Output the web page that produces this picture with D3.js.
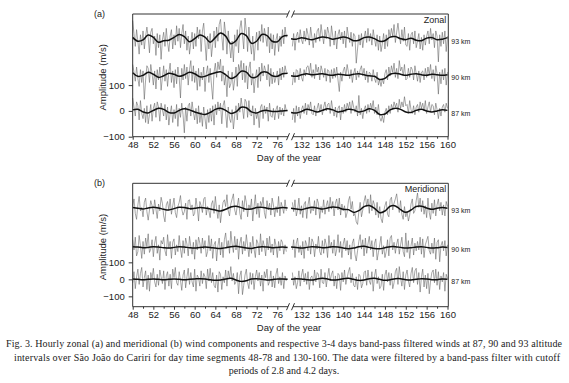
<!DOCTYPE html>
<html lang="en">
<head>
<meta charset="UTF-8">
<title>Fig. 3 - Zonal and meridional winds</title>
<style>
  body { margin: 0; background: #fff; }
  svg { display: block; }
  .tick text { font-family: "Liberation Sans", Arial, sans-serif; font-size: 9.5px; fill: #222; }
  .tick line { stroke: #333; }
  .lbl { font-family: "Liberation Sans", Arial, sans-serif; fill: #222; }
  .caption { font-family: "Liberation Serif", "Times New Roman", serif; font-size: 10px; fill: #222; }
</style>
</head>
<body>
<svg width="569" height="383"></svg>
<script src="https://d3js.org/d3.v7.min.js"></script>
<script>

  // tick values
  var leftTicks = [48, 52, 56, 60, 64, 68, 72, 76];
  var leftMinor = [50, 54, 58, 62, 66, 70, 74];
  var rightTicks = [132, 136, 140, 144, 148, 152, 156, 160];
  var rightMinor = [134, 138, 142, 146, 150, 154, 158];
  var yTicks = [-100, 0, 100];
  var heights = ['87 km', '90 km', '93 km'];

  // ---- zonal, 4 samples per day, anomaly in m/s ----
  var zonal87Left = [
    50,15,-20,35, 20,-35,40,-10, -30,10,-45,20, -50,-15,25,-40, 10,30,-25,35,
    15,-40,30,5, -20,25,-35,15, -55,-10,20,-45, 5,-30,25,-60, 10,-25,30,-15,
    -85,15,-40,20, 30,-20,35,-5, -35,10,-50,20, -45,-5,-60,15, -30,-70,5,-45,
    10,-40,20,-55, 25,-15,35,0, 30,-50,20,40, -10,-65,15,-30, -45,5,-70,-20,
    20,-35,30,-5, 50,10,-30,45, 35,-25,40,-15, -20,20,-55,10, -30,-5,-65,15,
    25,-30,20,-10, 15,-40,30,-20, -25,10,-35,5, 20,-30,15,-15, 10,-20,25,0
  ];
  var zonal90Left = [
    40,10,-25,30, -15,-45,20,-30, 15,-95,-20,35, 25,-30,40,5, -40,15,-55,20,
    -20,30,-60,-10, 35,-25,20,-45, 10,45,-30,15, -50,20,-35,30, -10,-90,25,-20,
    40,-15,30,-40, 20,55,-25,35, -30,15,-60,25, -45,10,-20,30, -65,5,35,-30,
    25,-40,-95,10, 45,-10,50,20, 60,-25,35,-40, -5,-85,15,-50, -35,10,-60,-20,
    30,-45,40,15, 55,-20,45,-30, 35,-55,25,50, -40,5,-70,-15, 20,-50,30,-25,
    45,-5,35,15, -20,40,-45,25, -35,10,-30,-10, 15,-40,25,-20, 30,-10,35,10
  ];
  var zonal93Left = [
    70,20,-30,35, -10,-60,15,-25, 30,-40,10,45, 5,-55,25,40, -20,10,-65,20,
    -35,15,-80,-5, 25,-30,40,-15, -50,10,35,-40, 15,-25,50,-10, 40,-35,20,55,
    -20,30,-45,10, -60,-15,25,-40, 20,-30,45,0, 35,-50,30,60, -15,-85,10,-40,
    20,-70,-20,30, -35,45,-10,55, 75,10,-45,65, 20,-60,30,-25, -75,-10,-90,15,
    -30,35,-55,40, 70,15,-40,80, 30,-50,45,-20, -60,10,-85,-20, 25,-45,30,-10,
    55,-15,40,10, -30,45,-55,20, -40,15,-65,-5, 20,-50,10,-30, 35,-20,45,5
  ];
  var zonal87Right = [
    -35,10,-45,20, -20,15,-30,5, 20,-10,30,-15, 25,5,35,-10, -15,20,-20,10,
    30,-5,25,-15, 15,35,0,25, 30,-10,40,5, -20,15,-25,10, 20,-35,15,-10,
    25,-5,30,10, 35,-10,40,15, -5,20,-20,60, -15,10,-30,5, 20,-10,25,-5,
    30,10,40,-10, 15,-15,25,-25, -40,-20,-45,-5, 10,-15,20,-10, 25,5,35,15,
    30,-5,45,10, 35,15,55,20, 25,-10,40,5, -10,20,-15,15, 25,-5,35,10,
    30,0,40,-10, 15,35,-5,25, 20,-15,30,5, -30,10,-20,15, 25,-5,30,10
  ];
  var zonal90Right = [
    -40,10,-30,20, 15,-20,25,-10, -25,20,-5,30, 35,5,45,-10, 20,-15,40,10,
    30,-20,35,15, -10,25,-25,20, 15,-30,20,-15, 25,-10,30,-20, -65,10,-25,15,
    30,-5,40,10, -15,20,-30,5, 25,-20,15,-10, 20,35,-5,25, -20,15,-30,10,
    5,-25,20,-15, -30,10,-40,-20, -45,-15,-35,5, 20,-20,30,-5, 35,10,45,-10,
    25,-15,55,15, 30,-5,40,-20, -15,25,-10,30, 20,-20,35,5, -25,15,-30,10,
    15,-20,25,-10, 30,0,40,-15, 20,-25,35,5, -75,10,-35,20, -20,25,-40,10
  ];
  var zonal93Right = [
    -30,20,-45,10, 25,-15,35,-5, -20,30,-10,40, 15,-25,45,5, -35,20,-15,30,
    40,-10,55,15, -20,35,0,45, 20,-30,50,10, -25,30,-40,15, 35,-5,25,-20,
    30,-35,45,10, -15,25,-30,20, 10,-95,-40,15, -25,20,-35,5, 30,-15,40,-10,
    20,-25,35,0, -30,15,-45,10, -50,-20,20,-40, 15,-30,35,5, 40,10,55,-15,
    25,60,15,-20, 35,-10,45,-25, -30,20,-45,15, 25,-20,30,-35, -10,20,-40,5,
    -45,15,-25,10, 30,-20,40,-5, 20,-35,30,10, -90,15,-30,25, -20,30,-50,10
  ];

  // ---- meridional ----
  var merid87Left = [
    -20,45,-55,15, 60,-30,35,70, -45,10,50,-60, 25,-70,40,5, 65,-15,-45,30,
    -35,55,15,-25, 50,-60,20,45, -40,30,-55,60, 10,70,-20,-35, 45,-5,-65,25,
    55,-50,15,65, -30,40,-15,-45, 60,-70,25,10, -40,50,-25,35, 15,-55,60,-10,
    65,-20,40,-35, -50,25,-75,45, 30,-60,15,-20, 55,-40,50,5, 75,-10,35,-30,
    -15,40,-85,20, 50,-90,-35,25, 60,-20,-55,40, -30,35,-60,15, 55,-10,40,-40,
    25,-70,45,10, 60,-35,-15,50, -45,20,-50,30, 65,-25,15,-35, 40,-55,20,-10
  ];
  var merid90Left = [
    45,-15,60,-50, -25,70,10,-65, 35,-40,55,5, 80,-30,-10,45, -55,25,65,-35,
    15,-75,40,20, 60,-20,-50,75, -5,35,-65,30, 50,-45,15,-25, 70,-10,-60,40,
    -35,55,20,-50, 65,5,-40,30, -70,45,-15,60, 25,-35,55,-10, 40,-55,-25,70,
    -20,50,-65,15, 35,-80,10,55, -45,30,-60,45, 85,-5,40,-35, 95,20,-30,65,
    -15,50,-70,25, 60,-40,35,-20, 75,10,-55,30, -35,65,-10,-60, 45,25,-45,80,
    -25,40,5,-50, 55,-15,65,-30, 20,-45,50,10, -60,35,-20,45, 30,-40,15,-25
  ];
  var merid93Left = [
    10,55,-30,-65, 20,70,-15,5, -50,35,60,-20, -70,-10,45,15, -35,50,-5,-60,
    25,-15,65,30, -45,-80,20,40, -10,55,-35,15, 60,-25,-55,10, 35,75,-5,-40,
    -20,30,-65,45, 50,-10,20,-45, -30,60,5,-75, 40,15,-25,55, 65,-40,10,-15,
    -55,25,45,-30, 70,-5,-60,20, -85,-20,35,50, 10,80,-15,-45, 25,55,85,-10,
    -40,15,60,-30, -65,45,-20,75, 35,-50,20,-5, 55,-75,10,80, -35,30,-55,40,
    15,65,-25,-60, 45,-10,30,-40, 60,20,-50,10, -25,70,-45,35, 5,-30,50,-15
  ];
  var merid87Right = [
    40,-35,15,-55, -20,50,-40,25, 60,-15,35,-30, 45,-60,10,20, -35,55,-15,40,
    30,-50,60,-20, -25,40,-45,15, 65,-10,30,50, -40,20,-55,35, 25,-65,40,-15,
    55,-30,10,45, 70,-20,35,-35, -45,15,-60,30, 20,-50,-25,40, 50,-35,55,-10,
    -30,45,-70,20, 60,-25,15,-55, -40,30,-65,25, 55,-15,40,-35, 35,-55,-20,45,
    65,-30,75,10, -40,45,-60,25, 55,-10,-45,35, 70,-20,50,65, -30,40,-75,15,
    60,-45,25,-55, 35,-85,-10,40, 55,-20,60,-35, 45,-60,20,-15, 40,-70,30,5
  ];
  var merid90Right = [
    -15,45,-60,25, 55,-30,10,-45, 35,-65,40,15, -20,60,-40,50, 30,-55,20,-10,
    65,-25,-45,40, -35,50,15,-60, 70,-5,30,-35, 45,-50,-15,75, -30,35,-60,20,
    55,-20,40,-45, 15,-70,25,50, -40,-80,-20,35, 75,-10,45,-50, 55,-35,20,65,
    -15,40,-55,25, 50,-75,-30,15, 65,-40,10,-60, -25,45,-50,55, 70,-15,30,-35,
    20,50,-40,15, 60,-25,-55,85, -30,40,-65,10, 55,-45,25,-20, 35,-15,60,-40,
    50,-60,15,40, 65,-20,-40,25, -35,55,-70,30, 45,-85,10,35, -20,40,-50,15
  ];
  var merid93Right = [
    35,-20,50,-45, -10,60,-35,15, -55,25,40,-60, 20,65,-30,5, -15,45,-40,55,
    30,-60,10,-25, 50,-35,15,45, -20,65,-5,40, -45,30,55,-10, 60,-40,25,-15,
    15,-55,-25,45, 70,-5,40,-45, -30,-80,-95,-20, 35,-50,-10,40, 75,10,55,-30,
    80,-15,45,20, -40,35,-55,10, -60,-85,-20,15, 40,-35,-50,50, 65,-10,30,55,
    85,20,-25,45, -35,-65,10,-50, -20,-75,-40,25, 55,-30,-15,45, 90,5,60,-20,
    45,-35,15,-55, 60,-25,-65,30, -30,50,-45,20, 55,-15,35,-40, 20,-45,40,10
  ];

  // ---- 3-4 day band-pass filtered, one value per day ----
  var zonalFit87Left = [4,6,-4,-8,2,10,6,-6,-8,2,8,4,-4,-10,-14,-6,6,10,2,-10,-4,14,12,-4,-8,0,2,-2,-2,0,2];
  var zonalFit90Left = [8,-6,-2,10,2,-10,-4,6,2,-6,0,10,4,-8,-6,2,8,12,0,-14,-6,14,10,-10,-8,10,10,-4,-6,4,6];
  var zonalFit93Left = [5,-10,-5,14,5,-14,-8,-6,5,16,8,-12,0,14,6,-14,4,22,10,-20,-8,20,12,-18,-10,16,12,-10,-12,8,12];
  var zonalFit87Right = [-6,-8,-2,6,2,-4,2,8,4,-4,0,6,4,-4,0,8,2,-14,-12,4,10,6,-4,-6,2,6,0,-4,0,4,2];
  var zonalFit90Right = [-4,-6,0,4,0,2,4,0,-2,2,0,-2,2,4,0,-4,-6,-18,-14,2,6,2,-2,2,4,0,-2,2,0,-2,0];
  var zonalFit93Right = [0,-2,4,0,-4,2,6,4,-2,2,6,2,-8,-6,4,6,0,-10,-8,6,8,0,-4,2,-6,-8,2,4,-4,-2,4];
  var meridFit87Left = [2,0,-2,0,2,0,-2,0,2,0,-2,0,2,4,2,-2,-6,-4,2,6,-4,-12,-8,2,4,0,-4,-2,2,2,0];
  var meridFit90Left = [4,2,-2,0,4,2,-2,-4,0,4,2,-2,-4,0,2,0,-4,-6,-2,4,6,2,-4,-6,0,4,2,-2,0,2,0];
  var meridFit93Left = [4,0,-4,2,6,2,-6,-10,-2,6,4,-2,0,4,2,-4,-10,-16,-6,8,12,4,-6,-4,4,6,0,-4,0,4,2];
  var meridFit87Right = [0,4,2,-2,-4,2,6,2,-4,-2,4,6,0,-6,-4,4,6,0,-6,-2,4,4,-2,-4,0,4,2,-2,-2,2,0];
  var meridFit90Right = [2,0,-4,0,4,2,-2,0,4,2,-4,-8,-4,4,6,0,-6,-8,-2,4,4,0,-4,-2,2,4,0,-4,-2,2,0];
  var meridFit93Right = [0,-4,-8,0,6,2,-4,2,8,4,-6,-8,-24,-14,10,16,0,-26,-16,12,14,-8,-24,-10,10,12,2,-6,0,4,0];

  var svg = d3.select("svg");

  // day -> pixel, one scale for each side of the break
  var xLeft = d3.scaleLinear().domain([48, 76]).range([132.7, 277.3]);
  var xRight = d3.scaleLinear().domain([132, 160]).range([301.5, 447.5]);
  var frameLeft = 132.7, frameRight = 448.3, breakFrom = 288, breakTo = 293;

  var panels = [
    { tag: '(a)', name: 'Zonal', top: 14, bottom: 136.7, yDomain: [-100, 375.6], offsets: [0, 140, 280],
      raw: [[zonal87Left, zonal87Right], [zonal90Left, zonal90Right], [zonal93Left, zonal93Right]],
      fit: [[zonalFit87Left, zonalFit87Right], [zonalFit90Left, zonalFit90Right], [zonalFit93Left, zonalFit93Right]] },
    { tag: '(b)', name: 'Meridional', top: 183.3, bottom: 306.7, yDomain: [-161, 565], offsets: [0, 188, 418],
      raw: [[merid87Left, merid87Right], [merid90Left, merid90Right], [merid93Left, merid93Right]],
      fit: [[meridFit87Left, meridFit87Right], [meridFit90Left, meridFit90Right], [meridFit93Left, meridFit93Right]] }
  ];

  panels.forEach(function(p) {
    var y = d3.scaleLinear().domain(p.yDomain).range([p.bottom, p.top]);
    var g = svg.append('g');

    p.offsets.forEach(function(off, k) {
      var rawL = p.raw[k][0], rawR = p.raw[k][1];
      var fitL = p.fit[k][0], fitR = p.fit[k][1];

      var rawLine = function(x, start) {
        return d3.line()
          .x(function(d, i) { return x(start + i * 0.25); })
          .y(function(d) { return y(off + d); });
      };
      var fitLine = function(x, start) {
        return d3.line()
          .curve(d3.curveCatmullRom)
          .x(function(d, i) { return x(start + i); })
          .y(function(d) { return y(off + d); });
      };

      g.append('path').attr('d', rawLine(xLeft, 48)(rawL))
        .attr('fill', 'none').attr('stroke', '#5e5e5e').attr('stroke-width', 0.55);
      g.append('path').attr('d', rawLine(xRight, 130.25)(rawR))
        .attr('fill', 'none').attr('stroke', '#5e5e5e').attr('stroke-width', 0.55);
      g.append('path').attr('d', fitLine(xLeft, 48)(fitL))
        .attr('fill', 'none').attr('stroke', '#111').attr('stroke-width', 1.5);
      g.append('path').attr('d', fitLine(xRight, 130)(fitR))
        .attr('fill', 'none').attr('stroke', '#111').attr('stroke-width', 1.5);

      g.append('text').attr('class', 'lbl')
        .attr('x', frameRight + 3).attr('y', y(off) + 2.5)
        .attr('dy', '0.35em').style('font-size', '7px')
        .text(heights[k]);
    });

    // frame with break in top and bottom
    var frame = g.append('g').attr('stroke', '#333').attr('stroke-width', 1).attr('fill', 'none');
    [p.top, p.bottom].forEach(function(yy) {
      frame.append('line').attr('x1', frameLeft).attr('x2', breakFrom).attr('y1', yy).attr('y2', yy);
      frame.append('line').attr('x1', breakTo).attr('x2', frameRight).attr('y1', yy).attr('y2', yy);
      frame.append('line').attr('x1', breakFrom - 1.5).attr('y1', yy + 3.5).attr('x2', breakFrom + 1.5).attr('y2', yy - 3.5);
      frame.append('line').attr('x1', breakTo - 1.5).attr('y1', yy + 3.5).attr('x2', breakTo + 1.5).attr('y2', yy - 3.5);
    });
    frame.append('line').attr('x1', frameLeft).attr('x2', frameLeft).attr('y1', p.top).attr('y2', p.bottom);
    frame.append('line').attr('x1', frameRight).attr('x2', frameRight).attr('y1', p.top).attr('y2', p.bottom);

    // x axes
    var addX = function(x, major, minor) {
      var a = g.append('g').attr('transform', 'translate(0,' + p.bottom + ')')
        .call(d3.axisBottom(x).tickValues(major).tickSize(3).tickPadding(2).tickFormat(d3.format('d')));
      a.select('.domain').remove();
      var m = g.append('g').attr('transform', 'translate(0,' + p.bottom + ')')
        .call(d3.axisBottom(x).tickValues(minor).tickSize(2).tickFormat(''));
      m.select('.domain').remove();
    };
    addX(xLeft, leftTicks, leftMinor);
    addX(xRight, rightTicks, rightMinor);

    var ya = g.append('g').attr('transform', 'translate(' + frameLeft + ',0)')
      .call(d3.axisLeft(y).tickValues(yTicks).tickSize(4).tickPadding(4));
    ya.select('.domain').remove();

    g.append('text').attr('class', 'lbl').attr('x', 94).attr('y', p.top + 2.5)
      .style('font-size', '9px').text(p.tag);
    g.append('text').attr('class', 'lbl').attr('x', frameRight - 2).attr('y', p.top + 8.5)
      .attr('text-anchor', 'end').style('font-size', '9px').text(p.name);
    g.append('text').attr('class', 'lbl')
      .attr('transform', 'translate(106,' + ((p.top + p.bottom) / 2 + 2) + ') rotate(-90)')
      .attr('text-anchor', 'middle').style('font-size', '9.5px').text('Amplitude (m/s)');
    g.append('text').attr('class', 'lbl').attr('x', 289).attr('y', p.bottom + 24.5)
      .attr('text-anchor', 'middle').style('font-size', '9.5px').text('Day of the year');
  });

  // caption
  var cap = svg.append('g').attr('class', 'caption');
  cap.append('text').attr('x', 6).attr('y', 347).attr('textLength', 556).attr('lengthAdjust', 'spacing')
    .text('Fig. 3. Hourly zonal (a) and meridional (b) wind components and respective 3-4 days band-pass filtered winds at 87, 90 and 93 altitude');
  cap.append('text').attr('x', 14).attr('y', 360.5).attr('textLength', 546).attr('lengthAdjust', 'spacing')
    .text('intervals over São João do Cariri for day time segments 48-78 and 130-160. The data were filtered by a band-pass filter with cutoff');
  cap.append('text').attr('x', 284).attr('y', 374).attr('text-anchor', 'middle')
    .text('periods of 2.8 and 4.2 days.');

</script>
</body>
</html>
